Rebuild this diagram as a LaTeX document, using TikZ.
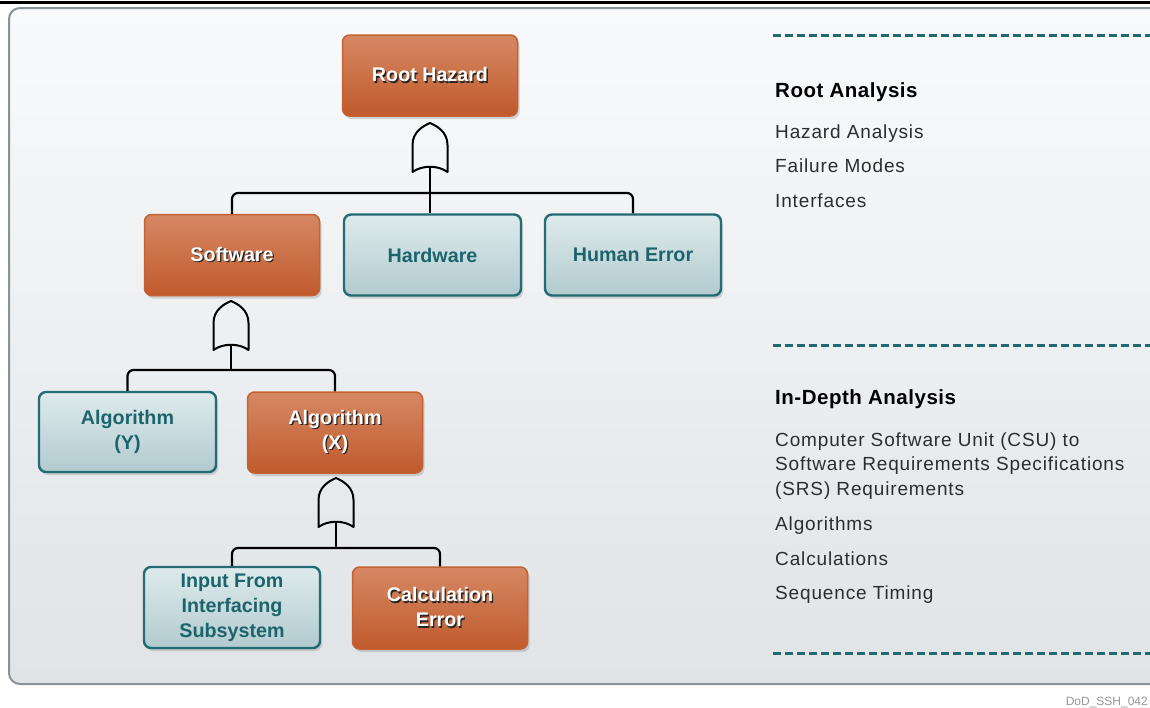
\documentclass[tikz,border=0pt]{standalone}
\usepackage{fontspec}
\setmainfont{Liberation Sans}
\newfontfamily\bodyfont[LetterSpace=4.5]{Liberation Sans}
\newfontfamily\headfont[LetterSpace=2.5]{Liberation Sans}
\usetikzlibrary{shadows}
\definecolor{otop}{RGB}{214,136,100}
\definecolor{obot}{RGB}{192,90,44}
\definecolor{obord}{RGB}{196,98,52}
\definecolor{ttop}{RGB}{222,234,236}
\definecolor{tbot}{RGB}{178,203,207}
\definecolor{tbord}{RGB}{36,108,115}
\definecolor{ttext}{RGB}{28,100,108}
\definecolor{dashc}{RGB}{34,104,111}
\definecolor{ptop}{RGB}{249,250,251}
\definecolor{pbot}{RGB}{224,228,231}
\definecolor{pbord}{RGB}{136,146,152}
\definecolor{bodyc}{RGB}{45,45,45}
\definecolor{tagc}{RGB}{150,150,150}
\newcommand\wsh[1]{\leavevmode\rlap{\hspace{1.3pt}\raisebox{-1.3pt}{\color{black!85}#1}}{\color{white}#1}}
\tikzset{
  boxbase/.style={rectangle, rounded corners=7pt, minimum width=175pt, minimum height=81pt,
    inner sep=0pt, align=center, font=\bfseries\fontsize{19.7}{25}\selectfont,
    drop shadow={shadow xshift=2pt, shadow yshift=-3pt, opacity=0.3}},
  obox/.style={boxbase, draw=obord, line width=1.5pt, top color=otop, bottom color=obot, text=white},
  tbox/.style={boxbase, draw=tbord, line width=2.4pt, top color=ttop, bottom color=tbot, text=ttext},
  gateline/.style={draw=black, line width=2pt, line join=round},
  conn/.style={draw=black, line width=2.2pt},
  dashln/.style={draw=dashc, line width=3pt, dash pattern=on 8pt off 4pt},
  rhead/.style={anchor=base west, inner sep=0pt, text=black, font=\headfont\bfseries\fontsize{20.5}{24}\selectfont},
  ritem/.style={anchor=base west, inner sep=0pt, text=bodyc, font=\bodyfont\fontsize{19}{24}\selectfont},
  orgate/.pic={
    \draw[gateline] (-17.5,49) -- (-17.5,22) .. controls (-17.5,9) and (-7,3) .. (0,0)
      .. controls (7,3) and (17.5,9) .. (17.5,22) -- (17.5,49)
      .. controls (8,42) and (-8,42) .. (-17.5,49) -- cycle;
    \coordinate (-in) at (0,43.75);
  }
}
\begin{document}
\begin{tikzpicture}[x=1pt,y=-1pt]
\useasboundingbox (0,0) rectangle (1150,707);
\clip (0,0) rectangle (1150,707);
% panel
\draw[draw=pbord, line width=2pt, rounded corners=11pt, top color=ptop, bottom color=pbot] (9,8) rectangle (1180,684);
\draw[line width=2.6pt] (0,2.7) -- (1150,2.7);

% boxes
\node[obox] (rh) at (430,75.5) {\wsh{Root Hazard}};
\node[obox] (sw) at (232,255) {\wsh{Software}};
\node[tbox, minimum width=177pt] (hw) at (432.5,255) {Hardware};
\node[tbox, minimum width=176pt] (he) at (633,255) {Human Error};
\node[tbox, minimum width=177pt, minimum height=80pt] (ay) at (127.5,432) {Algorithm\\(Y)};
\node[obox] (ax) at (335,432.5) {\wsh{Algorithm}\\\wsh{(X)}};
\node[tbox, minimum width=176pt] (inp) at (232,607.5) {Input From\\Interfacing\\Subsystem};
\node[obox, minimum height=82pt] (ce) at (440,608) {\wsh{Calculation}\\\wsh{Error}};

% gates
\pic (g1) at (430,123) {orgate};
\pic (g2) at (231,301) {orgate};
\pic (g3) at (336,478) {orgate};

% bars
\coordinate (b1) at (0,193);
\coordinate (b2) at (0,370);
\coordinate (b3) at (0,548);
\draw[conn, rounded corners=6pt] (sw.north) -- (sw.north |- b1) -- (he.north |- b1) -- (he.north);
\draw[conn] (g1-in) -- (g1-in |- hw.north);
\draw[conn, rounded corners=6pt] (ay.north) -- (ay.north |- b2) -- (ax.north |- b2) -- (ax.north);
\draw[conn] (g2-in) -- (g2-in |- b2);
\draw[conn, rounded corners=6pt] (inp.north) -- (inp.north |- b3) -- (ce.north |- b3) -- (ce.north);
\draw[conn] (g3-in) -- (g3-in |- b3);

% right side
\coordinate (d1a) at (773,35);  \coordinate (d1b) at (1150,35);
\coordinate (d2a) at (773,345); \coordinate (d2b) at (1150,345);
\coordinate (d3a) at (773,653); \coordinate (d3b) at (1150,653);
\draw[dashln] (d1a) -- (d1b);
\draw[dashln] (d2a) -- (d2b);
\draw[dashln] (d3a) -- (d3b);

\node[rhead] (t1) at (775,97) {Root Analysis};
\node[ritem] (t2) at (775,138) {Hazard Analysis};
\node[ritem] (t3) at (775,172.5) {Failure Modes};
\node[ritem] (t4) at (775,207.5) {Interfaces};

\node[rhead] (t5) at (775,404) {In-Depth Analysis};
\node[ritem] (t6) at (775,446) {Computer Software Unit (CSU) to};
\node[ritem] (t7) at (775,470.5) {Software Requirements Specifications};
\node[ritem] (t8) at (775,495) {(SRS) Requirements};
\node[ritem] (t9) at (775,530) {Algorithms};
\node[ritem] (t10) at (775,565) {Calculations};
\node[ritem] (t11) at (775,599.5) {Sequence Timing};

\node[anchor=base east, inner sep=0pt, text=tagc, font=\fontsize{12}{14}\selectfont] (tag) at (1148,705) {DoD\_SSH\_042};
\end{tikzpicture}
\end{document}
